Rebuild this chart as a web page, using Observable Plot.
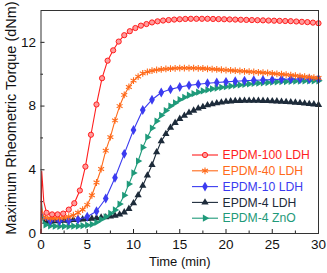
<!DOCTYPE html>
<html><head><meta charset="utf-8">
<script src="https://cdn.jsdelivr.net/npm/d3@7"></script>
<script src="https://cdn.jsdelivr.net/npm/@observablehq/plot@0.6"></script>
<style>
body{margin:0;background:#fff}
#wrap{position:relative;width:327px;height:273px}
#legend{position:absolute;left:0;top:0;pointer-events:none}
</style>
</head><body><div id="wrap"></div>
<script>
// ---- data ----
const seriesNames = ["EPDM-100 LDH", "EPDM-40 LDH", "EPDM-10 LDH", "EPDM-4 LDH", "EPDM-4 ZnO"];
const seriesColors = ["#ff1e1e", "#ff6a1a", "#3b3bf0", "#1d2b3a", "#1f9a7a"];
const seriesSymbols = ["circle", "asterisk", "diamond", "triangle", "triangle"];
const seriesRotate = [0, 0, 0, 0, 90];
const sampleSteps = [0.6, 0.5, 1.0, 0.5, 0.5]; // minutes between markers

// initial spike (line only, before first marker)
const headTimes = [[0, 0.08, 0.3], [0.05, 0.25], [0.05, 0.4], [0.05, 0.25], [0.05, 0.25]];
const headValues = [[0, 3.9, 2.0], [1.6, 1.15], [1.4, 0.9], [1.2, 0.8], [2.0, 0.7]];

const red100 = [1.3,1.2,1.2,1.25,1.5,1.9,2.7,4.2,6.2,8.1,
  9.75,10.85,11.5,12.05,12.45,12.7,12.9,13.05,13.15,13.25,
  13.32,13.37,13.4,13.43,13.45,13.47,13.48,13.48,13.48,13.48,
  13.47,13.46,13.45,13.44,13.43,13.42,13.41,13.4,13.39,13.38,
  13.37,13.36,13.35,13.34,13.33,13.31,13.29,13.27,13.24,13.2];
const orange40 = [1.0,0.95,0.95,0.97,1.0,1.05,1.15,1.3,1.5,1.8,
  2.4,3.2,4.05,5.2,6.05,7.1,8.0,8.7,9.2,9.6,
  9.85,10.05,10.15,10.22,10.27,10.3,10.33,10.35,10.37,10.38,
  10.38,10.38,10.38,10.37,10.36,10.34,10.32,10.3,10.28,10.26,
  10.24,10.22,10.2,10.18,10.16,10.14,10.12,10.1,10.08,10.05,
  10.02,10.0,9.97,9.94,9.91,9.88,9.85,9.82,9.79,9.76];
const blue10 = [0.8,0.78,0.8,0.88,1.05,1.4,2.2,3.5,5.0,6.5,
  7.75,8.4,8.85,9.05,9.2,9.3,9.37,9.43,9.48,9.52,
  9.56,9.59,9.62,9.64,9.66,9.68,9.69,9.7,9.7,9.7];
const black4 = [0.75,0.75,0.77,0.79,0.81,0.83,0.85,0.87,0.89,0.91,
  0.94,0.97,1.0,1.03,1.07,1.12,1.2,1.33,1.55,1.9,
  2.4,3.0,3.65,4.3,5.1,5.8,6.25,6.65,6.95,7.2,
  7.4,7.58,7.72,7.85,7.95,8.05,8.12,8.18,8.23,8.27,
  8.3,8.32,8.33,8.34,8.34,8.34,8.34,8.33,8.32,8.31,
  8.3,8.28,8.26,8.24,8.22,8.2,8.17,8.14,8.11,8.08];
const green4 = [0.55,0.48,0.46,0.45,0.45,0.45,0.46,0.47,0.49,0.52,
  0.58,0.7,0.88,1.05,1.26,1.48,1.85,2.4,3.1,3.8,
  4.55,5.4,6.05,6.62,7.06,7.42,7.72,8.0,8.2,8.4,
  8.55,8.68,8.78,8.87,8.95,9.02,9.08,9.13,9.18,9.22,
  9.26,9.3,9.33,9.36,9.39,9.42,9.44,9.46,9.48,9.5,
  9.52,9.53,9.54,9.55,9.56,9.57,9.58,9.58,9.59,9.59];
const seriesValues = [red100, orange40, blue10, black4, green4];

const xMajor = [0, 5, 10, 15, 20, 25, 30];
const xMinor = [2.5, 7.5, 12.5, 17.5, 22.5, 27.5];
const yMajor = [0, 4, 8, 12];
const yMinor = [2, 6, 10];
const xLabel = "Time (min)";
const yLabel = "Maximum Rheometric Torque (dNm)";

// ---- build tables ----
const markers = [], lines = [];
seriesValues.forEach((vals, i) => {
  const times = vals.map((_, k) => +(sampleSteps[i] * (k + 1)).toFixed(2));
  const m = vals.map((v, k) => ({s: i, t: times[k], v}));
  markers.push(m);
  lines.push(headTimes[i].map((t, k) => ({s: i, t, v: headValues[i][k]})).concat(m));
});

const W = 327, H = 273;
const mL = 40.5, mR = 9, mT = 10, mB = 40;
const frameW = W - mL - mR, frameH = H - mT - mB;
const font = "'Liberation Sans', Arial, sans-serif";

const marks = [];
// inward ticks
marks.push(Plot.tickX(xMajor, {x: d => d, insetTop: frameH - 4, stroke: "#222"}));
marks.push(Plot.tickX(xMinor, {x: d => d, insetTop: frameH - 2.5, stroke: "#222"}));
marks.push(Plot.tickY(yMajor, {y: d => d, insetRight: frameW - 4, stroke: "#222"}));
marks.push(Plot.tickY(yMinor, {y: d => d, insetRight: frameW - 2.5, stroke: "#222"}));
// series (draw back to front so red on top)
[3, 4, 2, 1, 0].forEach(i => {
  const c = seriesColors[i];
  marks.push(Plot.line(lines[i], {x: "t", y: "v", stroke: c, strokeWidth: 1.1}));
  const dotOpts = {x: "t", y: "v", symbol: () => seriesSymbols[i]};
  if (i === 0) Object.assign(dotOpts, {r: 2.6, fill: "#ff9c9c", stroke: c, strokeWidth: 1});
  else if (i === 1) Object.assign(dotOpts, {r: 3.2, fill: "none", stroke: c, strokeWidth: 1.1});
  else if (i === 2) Object.assign(dotOpts, {r: 3.0, fill: c, stroke: "none"});
  else Object.assign(dotOpts, {r: 2.7, fill: c, stroke: "none", rotate: seriesRotate[i]});
  marks.push(Plot.dot(markers[i], dotOpts));
});
marks.push(Plot.frame({stroke: "#333", strokeWidth: 1}));
marks.push(Plot.axisX(xMajor, {tickSize: 0, tickPadding: 6, fontSize: 13.5, label: null}));
marks.push(Plot.axisY(yMajor, {tickSize: 0, tickPadding: 5, fontSize: 13.5, label: null}));
marks.push(Plot.text([xLabel], {frameAnchor: "bottom", dy: 32, fontSize: 13, fill: "#111", textAnchor: "middle"}));
marks.push(Plot.text([yLabel], {frameAnchor: "left", dx: -30, dy: -4, rotate: -90, fontSize: 14.5, fill: "#111", textAnchor: "middle"}));

const chart = Plot.plot({
  width: W, height: H,
  marginLeft: mL, marginRight: mR, marginTop: mT, marginBottom: mB,
  style: {fontFamily: font, fontSize: "13px", color: "#111", background: "#fff"},
  x: {domain: [0, 30]},
  y: {domain: [0, 14]},
  symbol: {type: "identity"},
  marks
});
const wrap = document.getElementById("wrap");
wrap.appendChild(chart);

// ---- legend overlay ----
const symTypes = {circle: d3.symbolCircle, asterisk: d3.symbolAsterisk, diamond: d3.symbolDiamond, triangle: d3.symbolTriangle};
const leg = d3.select(wrap).append("svg").attr("id", "legend").attr("width", W).attr("height", H);
seriesNames.forEach((name, i) => {
  const y = 155 + i * 15.8;
  const c = seriesColors[i];
  const g = leg.append("g").attr("transform", `translate(0,${y})`);
  g.append("line").attr("x1", 192).attr("x2", 218).attr("stroke", c).attr("stroke-width", 1.1);
  const r = [2.6, 3.2, 3.0, 2.7, 2.7][i];
  const p = g.append("path").attr("d", d3.symbol(symTypes[seriesSymbols[i]], Math.PI * r * r)())
    .attr("transform", `translate(205,0) rotate(${seriesRotate[i]})`);
  if (i === 0) p.attr("fill", "#ff9c9c").attr("stroke", c);
  else if (i === 1) p.attr("fill", "none").attr("stroke", c).attr("stroke-width", 1.1);
  else p.attr("fill", c);
  g.append("text").attr("x", 222.5).attr("dy", "0.35em").attr("fill", c)
    .attr("font-family", font).attr("font-size", 12.2).text(name);
});
</script></body></html>
